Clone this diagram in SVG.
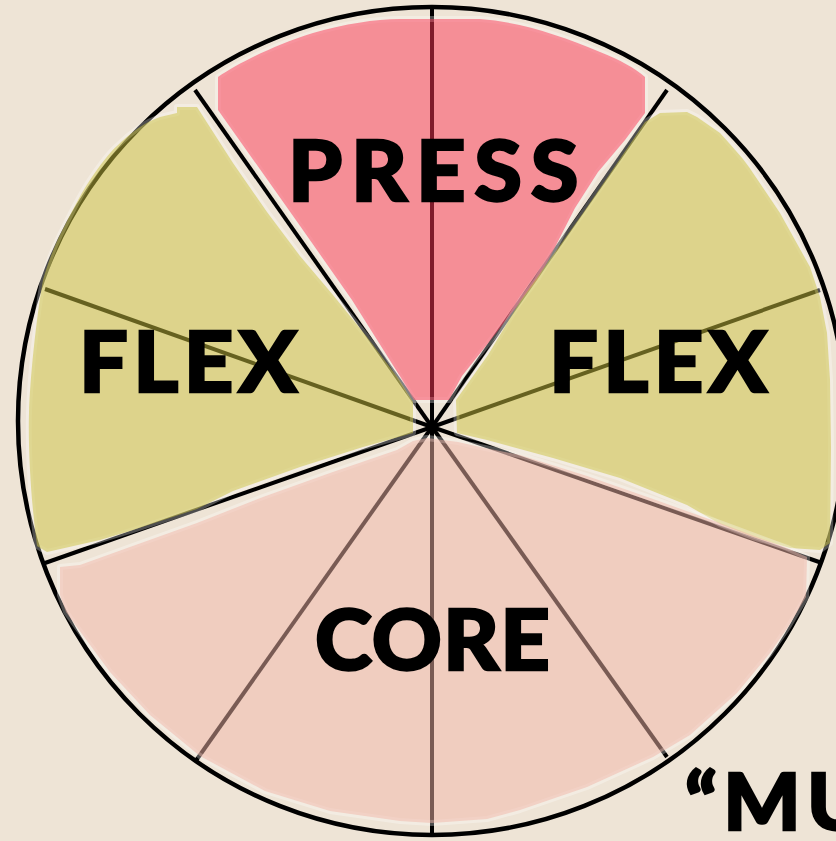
<svg xmlns="http://www.w3.org/2000/svg" width="836" height="841" viewBox="0 0 836 841">
  <style>
    .spoke { stroke: #000; stroke-width: 4; stroke-linecap: butt; fill: none; }
    .rim { stroke: #000; stroke-width: 4.5; fill: none; }
    .halo { fill: none; stroke: #ffffff; stroke-opacity: 0.3; stroke-width: 6; stroke-linejoin: round; }
    .fill { fill-opacity: 0.5; stroke: none; }
    .pink { fill: #FC3856; }
    .olive { fill: #CCC240; }
    .core { fill: #F2B6A8; }
    .lbl { font-family: Lato, "Open Sans", "DejaVu Sans", sans-serif; font-weight: 900; fill: #000; stroke: #000; stroke-width: 2.4; stroke-linejoin: miter; }
  </style>
  <rect width="836" height="841" fill="#EEE4D6"/>
  <g id="connectors">
    <circle class="rim" cx="432" cy="421" r="414"/>
    <line class="spoke" x1="432" y1="427" x2="432" y2="8"/>
    <line class="spoke" x1="432" y1="427" x2="432" y2="836"/>
    <line class="spoke" x1="432" y1="427" x2="195" y2="90"/>
    <line class="spoke" x1="432" y1="427" x2="667" y2="90"/>
    <line class="spoke" x1="432" y1="427" x2="45" y2="289"/>
    <line class="spoke" x1="432" y1="427" x2="820" y2="290"/>
    <line class="spoke" x1="432" y1="427" x2="45" y2="563"/>
    <line class="spoke" x1="432" y1="427" x2="822" y2="563"/>
    <line class="spoke" x1="432" y1="427" x2="195" y2="762"/>
    <line class="spoke" x1="432" y1="427" x2="667" y2="757"/>
  </g>
  <defs>
    <path id="p-press" d="M218,77 C240,62 275,45 313,33 C345,24 375,19 400,19 L480,19 C520,22 560,35 600,52 C620,60 635,68 645,77 L645,113 L625,140 L598,172 L575,208 L551,255 L537,280 L497,332 L462,376 L449,400 L414,400 L396,370 L352,300 L298,223 L218,110 Z"/>
    <path id="p-flexl" d="M177,107 L197,107 L233,163 L267,212 L300,256 L333,295 L367,337 L398,378 L413,402 L413,433 L363,447 L300,467 L233,491 L197,509 L130,531 L100,540 L47,552 L37,546 C31,500 28,450 29,413 C30,380 36,320 43,280 C48,262 55,245 60,235 C70,215 80,195 90,180 C100,165 110,152 117,146 C130,133 145,122 160,117 L177,113 Z"/>
    <path id="p-flexr" d="M660,113 L687,112 L697,117 L720,133 C735,150 745,160 753,173 L780,213 L810,267 L820,297 L827,333 L830,380 L831,447 L830,543 L820,550 L790,548 L753,537 L720,524 L687,505 L620,478 L553,458 L487,440 L457,433 L456,400 L488,355 L521,300 L553,255 L583,213 L609,175 L628,147 L645,122 Z"/>
    <path id="p-core" d="M60,567 L80,565 L130,547 L197,523 L263,497 L330,473 L397,450 L413,441 L427,438 L458,442 L480,447 L520,455 L587,476 L653,499 L720,523 L787,548 L807,557 L806,597 L788,627 L770,653 L737,693 L690,735 L653,757 L587,787 L520,810 L487,819 L432,823 L400,821 L330,811 L265,791 L200,756 L150,715 L110,672 L82,634 L66,612 L60,595 Z"/>
  </defs>
  <g id="node-press">
    <use href="#p-press" class="halo"/>
    <use href="#p-press" class="fill pink"/>
    <text class="lbl" transform="translate(288,201) scale(1.03,1)" x="0" y="0" font-size="84" textLength="282" lengthAdjust="spacing">PRESS</text>
  </g>
  <g id="node-flex-left">
    <use href="#p-flexl" class="halo"/>
    <use href="#p-flexl" class="fill olive"/>
    <text class="lbl" transform="translate(79,392) scale(1.03,1)" x="0" y="0" font-size="84" textLength="212" lengthAdjust="spacing">FLEX</text>
  </g>
  <g id="node-flex-right">
    <use href="#p-flexr" class="halo"/>
    <use href="#p-flexr" class="fill olive"/>
    <text class="lbl" transform="translate(549,392) scale(1.03,1)" x="0" y="0" font-size="84" textLength="212" lengthAdjust="spacing">FLEX</text>
  </g>
  <g id="node-core">
    <use href="#p-core" class="halo"/>
    <use href="#p-core" class="fill core"/>
    <text class="lbl" transform="translate(315,670) scale(1.03,1)" x="0" y="0" font-size="84" textLength="228" lengthAdjust="spacing">CORE</text>
  </g>
  <g id="node-quote">
    <text class="lbl" transform="translate(685,830) scale(1.03,1)" x="0" y="0" font-size="79" letter-spacing="6">“MU</text>
  </g>
</svg>
